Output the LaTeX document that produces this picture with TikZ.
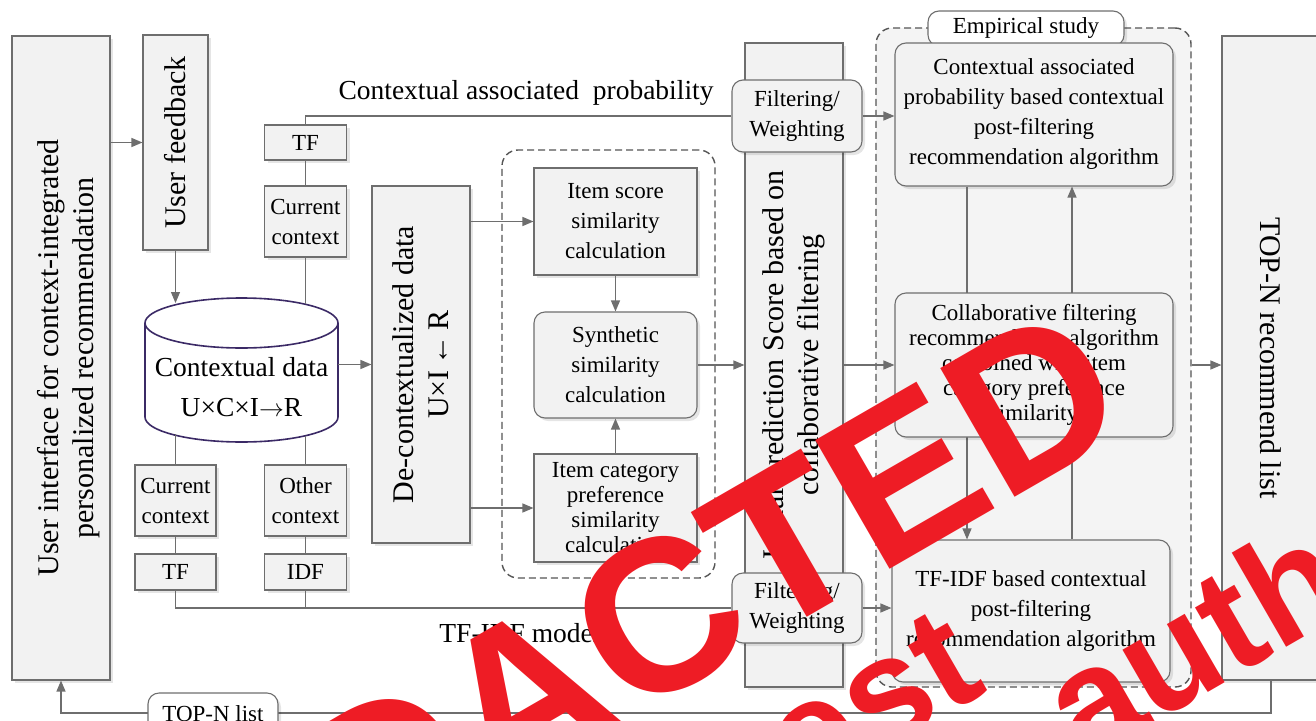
\documentclass[tikz,border=0pt]{standalone}
\usepackage{fontspec}
\setmainfont{Liberation Serif}
\newfontfamily\wmfont{Liberation Sans}
\usetikzlibrary{arrows.meta,shadows}
\definecolor{boxfill}{HTML}{F2F2F2}
\definecolor{bordercol}{HTML}{6E6E6E}
\definecolor{linecol}{HTML}{6E6E6E}
\definecolor{dashcol}{HTML}{555555}
\definecolor{cylcol}{HTML}{3B2A66}
\definecolor{empfill}{HTML}{F4F4F4}
\definecolor{wmred}{HTML}{EE1C25}
\newcommand\nfont{\fontsize{23}{30}\selectfont}
\newcommand\tightfont{\fontsize{23}{25}\selectfont}
\newcommand\lfont{\fontsize{27.5}{40}\selectfont}
\newcommand\rfont{\fontsize{30}{35}\selectfont}
\tikzset{
  sz/.style 2 args={minimum width=#1pt, minimum height=#2pt},
  box/.style={draw=bordercol, fill=boxfill, line width=1.1pt, inner sep=0pt,
    align=center, font=\nfont,
    drop shadow={shadow xshift=3pt, shadow yshift=-3pt, fill=black, opacity=0.10}},
  rbox/.style={box, rounded corners=11pt},
  dashbox/.style={draw=dashcol, line width=1.4pt, dash pattern=on 7pt off 4pt,
    rounded corners=16pt, inner sep=0pt},
  rtext/.style={rotate=90, align=center, font=\rfont, inner sep=0pt},
  conn/.style={draw=linecol, line width=1.2pt},
  arr/.style={conn, -{Triangle[length=11pt,width=9pt]}},
  plain/.style={inner sep=0pt, font=\lfont},
  wm/.style={text=wmred, inner sep=0pt, rotate=30}
}
\begin{document}
\begin{tikzpicture}[x=1pt,y=-1pt]
\useasboundingbox (0,0) rectangle (1316,720);
\clip (0,0) rectangle (1316,720);
\coordinate (xa) at (967,0);
\coordinate (xb) at (1072,0);
\coordinate (yb) at (0,713);

% grouping regions
\node[dashbox, fill=empfill, sz={315}{659}] (emp) at (1033.5,357.5) {};
\node[dashbox, fill=white, sz={213}{428}] (simg) at (608.5,364) {};
\node[rbox, fill=white, sz={196}{35}] (emplabel) at (1026,28.5) {Empirical study};

% left column
\node[box, sz={98}{644}] (ui) at (61,358) {};
\node[rtext] (uitext) at (69,358) {User interface for context-integrated\\personalized recommendation};
\node[box, sz={65}{215}] (fb) at (175.5,142.5) {};
\node[rtext] (fbtext) at (fb) {User feedback};

% cylinder
\node[inner sep=0pt, sz={193}{144}] (cyl) at (241.5,370) {};
\draw[cylcol, line width=1.6pt, fill=white]
  (145,323) -- (145,417) arc[start angle=180, end angle=360, x radius=96.5pt, y radius=25pt]
  -- (338,323);
\draw[cylcol, line width=1.6pt, fill=white] (241.5,323) ellipse [x radius=96.5pt, y radius=25pt];
\node[align=center, font=\lfont, inner sep=0pt] (cyltext) at (241.5,387) {Contextual data\\U×C×I$\rightarrow$R};
\coordinate (cyltop1) at (175.5,303);
\coordinate (cyltop2) at (305.5,304);
\coordinate (cylbot1) at (175.5,434);
\coordinate (cylbot2) at (305.5,436);

\node[box, sz={82}{35}] (tf1) at (305.5,142.5) {TF};
\node[box, sz={82}{71}] (cc1) at (305.5,221.5) {Current\\context};
\node[box, sz={81}{71}] (cc2) at (175.5,500.5) {Current\\context};
\node[box, sz={81}{36}] (tf2) at (175.5,572) {TF};
\node[box, sz={82}{71}] (oc) at (305.5,500.5) {Other\\context};
\node[box, sz={82}{36}] (idf) at (305.5,572) {IDF};

\node[box, sz={98}{357}] (decon) at (421,364.5) {};
\node[rtext] (decontext) at (decon) {De-contextualized data\\U×I\,←\,R};

\node[box, sz={163}{107}] (itemscore) at (615.5,221.5) {Item score\\similarity\\calculation};
\node[rbox, sz={163}{106}] (synth) at (615.5,365) {Synthetic\\similarity\\calculation};
\node[box, sz={163}{108}, font=\tightfont] (itemcat) at (615.5,508) {Item category\\preference\\similarity\\calculation};

\node[box, sz={98}{644}] (init) at (794,365) {};
\node[rtext] (inittext) at (init) {Initial prediction Score based on\\collaborative filtering};
\node[rbox, sz={130}{72}] (fw1) at (797,116) {Filtering/\\Weighting};
\node[rbox, sz={130}{70}] (fw2) at (797,608) {Filtering/\\Weighting};

\node[rbox, sz={278}{143}] (ctx) at (1034,114.5) {Contextual associated\\probability based contextual\\post-filtering\\recommendation algorithm};
\node[rbox, sz={278}{142}] (tfidf) at (1031,611) {TF-IDF based contextual\\post-filtering\\recommendation algorithm};
\draw[arr] (xa |- ctx.south) -- (xa |- tfidf.north);
\draw[arr] (xb |- tfidf.north) -- (xb |- ctx.south);
\node[rbox, sz={278}{144}, font=\tightfont] (collab) at (1034,365) {Collaborative filtering\\recommendation algorithm\\combined with item\\category preference\\similarity};

\node[box, sz={98}{644}] (topn) at (1271,358) {};
\node[rtext, rotate=180] (topntext) at (topn) {TOP-N recommend list};

\node[plain] (cap) at (526,93) {Contextual associated\ \ probability};
\node[plain] (tfidfm) at (520,633) {TF-IDF model};

% connectors
\draw[arr] (fb.west -| ui.east) -- (fb.west);
\draw[arr] (fb.south) -- (cyltop1);
\draw[conn] (tf1.north) |- (fw1.west);
\draw[conn] (tf1.south) -- (cc1.north);
\draw[conn] (cc1.south) -- (cyltop2);
\draw[conn] (cylbot1) -- (cc2.north);
\draw[conn] (cylbot2) -- (oc.north);
\draw[conn] (cc2.south) -- (tf2.north);
\draw[conn] (oc.south) -- (idf.north);
\draw[conn] (tf2.south) |- (fw2.west);
\draw[conn] (idf.south) -- (idf.south |- fw2.west);
\draw[arr] (decon.west -| cyl.east) -- (decon.west);
\draw[arr] (itemscore.west -| decon.east) -- (itemscore.west);
\draw[arr] (itemcat.west -| decon.east) -- (itemcat.west);
\draw[arr] (itemscore.south) -- (synth.north);
\draw[arr] (itemcat.north) -- (synth.south);
\draw[arr] (synth.east) -- (synth.east -| init.west);
\draw[arr] (fw1.east) -- (fw1.east -| ctx.west);
\draw[arr] (fw2.east) -- (fw2.east -| tfidf.west);
\draw[arr] (collab.west -| init.east) -- (collab.west);
\draw[arr] (collab.east -| emp.east) -- (collab.east -| topn.west);
\draw[arr] (topn.south) -- (topn.south |- yb) -| (ui.south);
\node[rbox, fill=white, sz={130}{42}] (toplist) at (213,714) {TOP-N list};

% watermark
\node[wm, anchor=base west, font=\wmfont\bfseries\fontsize{216}{216}\selectfont] (wm1) at (98,1027) {REDACTED};
\node[wm, anchor=base east, font=\wmfont\bfseries\fontsize{150}{150}\selectfont] (wm2) at (990,690) {at request};
\node[wm, anchor=base west, font=\wmfont\bfseries\fontsize{150}{150}\selectfont] (wm3) at (1082,765) {author};
\end{tikzpicture}
\end{document}
